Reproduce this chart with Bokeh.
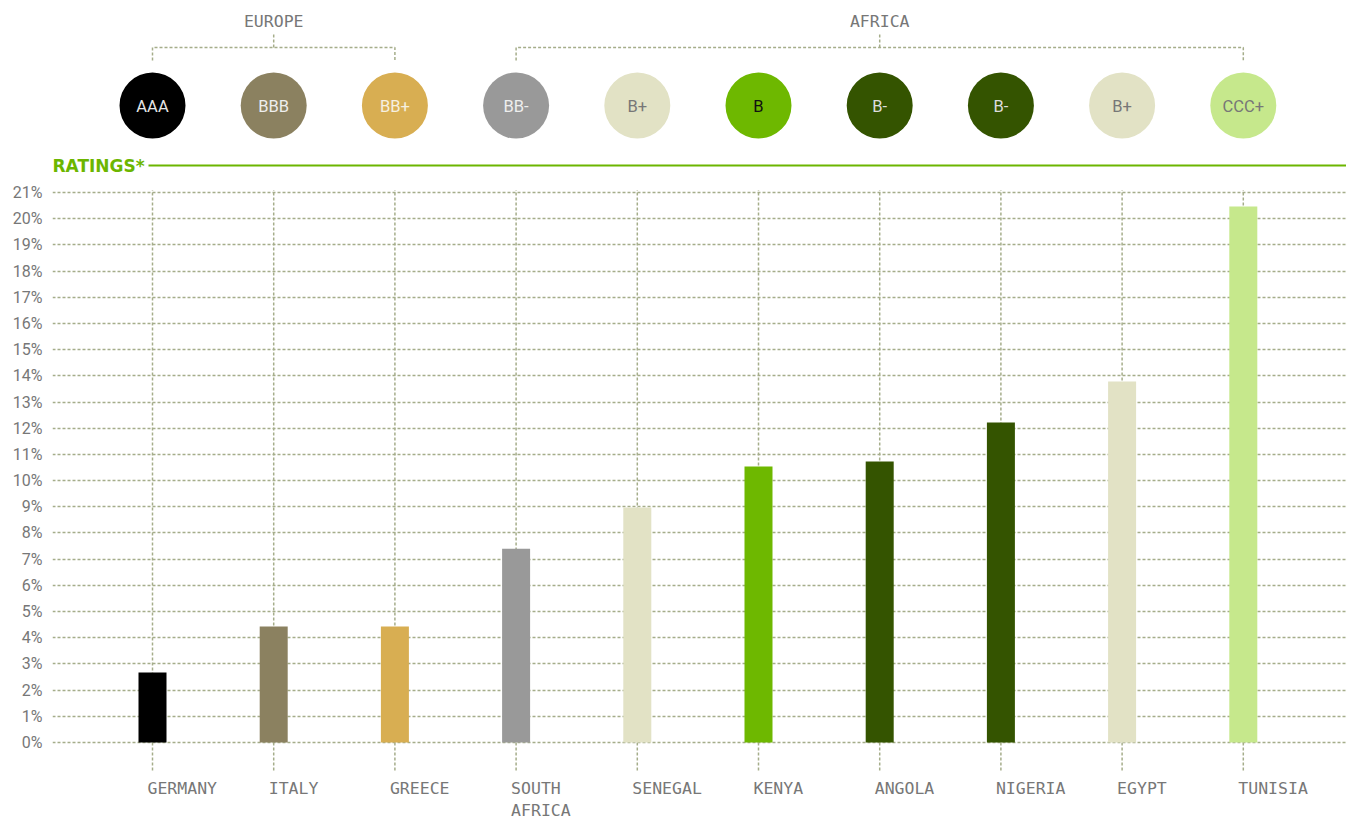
from bokeh.plotting import figure
from bokeh.models import Range1d, FixedTicker, PrintfTickFormatter, ColumnDataSource, Label
from bokeh.core.properties import value
from bokeh.embed import file_html
from bokeh.resources import INLINE

# ---------------- data ----------------
countries = ["GERMANY", "ITALY", "GREECE", "SOUTH\nAFRICA", "SENEGAL",
             "KENYA", "ANGOLA", "NIGERIA", "EGYPT", "TUNISIA"]
ratings = ["AAA", "BBB", "BB+", "BB-", "B+", "B", "B-", "B-", "B+", "CCC+"]
yields_pct = [2.67, 4.43, 4.43, 7.4, 8.97, 10.54, 10.73, 12.22, 13.78, 20.47]
regions = ["EUROPE", "EUROPE", "EUROPE", "AFRICA", "AFRICA",
           "AFRICA", "AFRICA", "AFRICA", "AFRICA", "AFRICA"]
y_ticks = list(range(0, 22))

# ---------------- styles ----------------
rating_fill = {"AAA": "#000000", "BBB": "#8b8160", "BB+": "#d8ae52", "BB-": "#999999",
               "B+": "#e2e2c5", "B": "#6eb800", "B-": "#345400", "CCC+": "#c6e88c"}
rating_text = {"AAA": "#e6e6e6", "BBB": "#eeeeee", "BB+": "#f6f0e0", "BB-": "#eeeeee",
               "B+": "#777777", "B": "#111111", "B-": "#dddddd", "CCC+": "#777777"}
GRID = "#a5ad8a"
GREEN = "#6cb600"
GREY = "#777777"

W, H = 1346, 821
FRAME_LEFT = 52
ZERO_PX = 742
PPU = 550 / 21.0             # pixels per percentage point
X0_PX, STEP_PX = 152, 121.2  # first category centre, spacing

def vy(px):
    return (ZERO_PX - px) / PPU

def vx(px):
    return (px - X0_PX) / STEP_PX

CIRCLE_Y = vy(106)
RULE_Y = vy(165)
BR_Y = vy(47)
BR_END_Y = vy(60)
BR_TICK_Y = vy(34)
GROUP_Y = vy(21)
CAT_Y = vy(778)

xs = list(range(len(countries)))
src = ColumnDataSource(dict(
    x=xs, top=yields_pct, country=countries, rating=ratings,
    color=[rating_fill[r] for r in ratings],
    tcolor=[rating_text[r] for r in ratings],
))

p = figure(width=W, height=H,
           x_range=Range1d(vx(FRAME_LEFT), vx(W)),
           y_range=Range1d(vy(H), vy(0)),
           output_backend="svg", toolbar_location=None,
           x_axis_location=None, min_border_left=FRAME_LEFT, min_border_right=0,
           min_border_top=0, min_border_bottom=0, outline_line_color=None)

p.xgrid.visible = False
p.ygrid.grid_line_color = GRID
p.ygrid.grid_line_dash = "3 2"
p.ygrid.grid_line_width = 1.5

ax = p.yaxis[0]
ax.ticker = FixedTicker(ticks=y_ticks)
ax.formatter = PrintfTickFormatter(format="%d%%")
ax.axis_line_color = None
ax.major_tick_line_color = None
ax.minor_tick_line_color = None
ax.major_tick_out = 0
ax.major_tick_in = 0
ax.major_label_standoff = 10
ax.major_label_text_font = "Roboto"
ax.major_label_text_font_size = "16px"
ax.major_label_text_color = GREY

# vertical category dotted lines
p.segment(x0="x", x1="x", y0=-1.07, y1=21.1, source=src,
          line_color=GRID, line_dash="3 2", line_width=1.5)

# bars
p.vbar(x="x", top="top", bottom=0, width=28 / STEP_PX, source=src,
       fill_color="color", line_color=None)

# rating circles
p.scatter(x="x", y=vy(105), size=66, marker="circle", source=src,
          fill_color="color", line_color=None)
p.text(x="x", y=CIRCLE_Y, text="rating", source=src, text_color="tcolor",
       text_align="center", text_baseline="middle",
       text_font=value("Roboto"), text_font_size="16.5px")

# green rule + RATINGS*
p.segment(x0=vx(148), x1=vx(W + 10), y0=RULE_Y, y1=RULE_Y, line_color=GREEN, line_width=2)
p.add_layout(Label(x=vx(52), y=RULE_Y, text="RATINGS*", text_baseline="middle",
                   text_align="left", text_font="DejaVu Sans", text_font_style="bold",
                   text_font_size="17px", text_color=GREEN))

# region brackets
group_names = []
for r in regions:
    if r not in group_names:
        group_names.append(r)
bx, by, tx, ty, gx = [], [], [], [], []
for g in group_names:
    idx = [i for i, r in enumerate(regions) if r == g]
    a, b = idx[0], idx[-1]
    m = (a + b) / 2
    bx.append([a, a, b, b]); by.append([BR_END_Y, BR_Y, BR_Y, BR_END_Y])
    tx.append([m, m]); ty.append([BR_Y, BR_TICK_Y])
    gx.append(m)
p.multi_line(xs=bx, ys=by, line_color=GRID, line_dash="3 2", line_width=1.5)
p.multi_line(xs=tx, ys=ty, line_color=GRID, line_dash="3 2", line_width=1.5)
p.text(x=gx, y=GROUP_Y, text=group_names, text_align="center", text_baseline="middle",
       text_color=GREY, text_font=value("DejaVu Sans Mono"), text_font_size="16.5px")

# category labels
p.text(x="x", y=CAT_Y, text="country", source=src, x_offset=-5,
       text_align="left", text_baseline="top", text_color=GREY,
       text_font=value("DejaVu Sans Mono"), text_font_size="16.5px",
       text_line_height=1.2)

open("out.html", "w").write(file_html(p, INLINE))
